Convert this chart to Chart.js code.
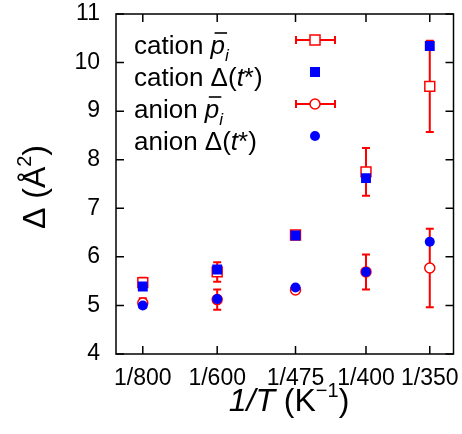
<!DOCTYPE html>
<html>
<head>
<meta charset="utf-8">
<script src="https://cdn.jsdelivr.net/npm/chart.js@4/dist/chart.umd.min.js"></script>
<style>
  body { margin: 0; background: #fff; }
  canvas { display: block; }
</style>
</head>
<body>
<canvas id="myChart" width="462" height="434"></canvas>
<script>
// temperatures (K); x positions are 1/T
var temps = [800, 600, 475, 400, 350];
var xTickLabels = ['1/800', '1/600', '1/475', '1/400', '1/350'];
var yTicks = [4, 5, 6, 7, 8, 9, 10, 11];

// cation / anion values (Å^2)
var cationP = [5.47, 5.69, 6.45, 7.75, 9.51];
var cationPErr = [0.10, 0.20, 0.04, 0.49, 0.94];
var cationD = [5.39, 5.74, 6.44, 7.62, 10.34];
var anionP = [5.05, 5.12, 5.32, 5.69, 5.77];
var anionPErr = [0.10, 0.21, 0.04, 0.36, 0.81];
var anionD = [5.00, 5.13, 5.37, 5.69, 6.31];

var xVals = temps.map(function (t) { return 1 / t; });
function pts(arr) {
    return arr.map(function (v, i) { return { x: xVals[i], y: v }; });
}

var RED = '#ff0000';
var BLUE = '#0000ff';
var FONT = '"Liberation Sans", Arial, sans-serif';

function drawRich(ctx, x, y, parts) {
    parts.forEach(function (p) {
        ctx.font = p.font;
        ctx.fillText(p.t, x, y + (p.dy || 0));
        var w = ctx.measureText(p.t).width;
        if (p.over) {
            ctx.save();
            ctx.lineWidth = 1.6;
            ctx.beginPath();
            ctx.moveTo(x + 4, y - 21);
            ctx.lineTo(x + w + 2, y - 21);
            ctx.stroke();
            ctx.restore();
        }
        x += w + (p.dx || 0);
    });
}
function richWidth(ctx, parts) {
    var w = 0;
    parts.forEach(function (p) { ctx.font = p.font; w += ctx.measureText(p.t).width + (p.dx || 0); });
    return w;
}

// error bars drawn under the markers
var errorBars = {
    id: 'errorBars',
    beforeDatasetsDraw: function (chart) {
        var ctx = chart.ctx, xs = chart.scales.x, ys = chart.scales.y;
        ctx.save();
        ctx.strokeStyle = RED;
        ctx.lineWidth = 2;
        [[cationP, cationPErr], [anionP, anionPErr]].forEach(function (s) {
            s[0].forEach(function (v, i) {
                var px = xs.getPixelForValue(xVals[i]);
                var top = ys.getPixelForValue(v + s[1][i]);
                var bot = ys.getPixelForValue(v - s[1][i]);
                ctx.beginPath();
                ctx.moveTo(px, top); ctx.lineTo(px, bot);
                ctx.moveTo(px - 4, top); ctx.lineTo(px + 4, top);
                ctx.moveTo(px - 4, bot); ctx.lineTo(px + 4, bot);
                ctx.stroke();
            });
        });
        ctx.restore();
    }
};

// frame, inward ticks, titles and legend
var frame = {
    id: 'frame',
    afterDraw: function (chart) {
        var ctx = chart.ctx, a = chart.chartArea, xs = chart.scales.x, ys = chart.scales.y;
        ctx.save();
        ctx.strokeStyle = '#000';
        ctx.lineWidth = 1.5;
        ctx.strokeRect(a.left, a.top, a.right - a.left, a.bottom - a.top);
        ctx.beginPath();
        yTicks.forEach(function (v) {
            var py = ys.getPixelForValue(v);
            ctx.moveTo(a.left, py); ctx.lineTo(a.left + 8, py);
            ctx.moveTo(a.right, py); ctx.lineTo(a.right - 8, py);
        });
        xVals.forEach(function (v) {
            var px = xs.getPixelForValue(v);
            ctx.moveTo(px, a.bottom); ctx.lineTo(px, a.bottom - 8);
            ctx.moveTo(px, a.top); ctx.lineTo(px, a.top + 8);
        });
        ctx.stroke();

        ctx.fillStyle = '#000';
        ctx.textBaseline = 'alphabetic';
        ctx.textAlign = 'left';

        // x title
        var xt = [
            { t: '1/T ', font: 'italic 32px ' + FONT },
            { t: '(K', font: '32px ' + FONT },
            { t: '\u22121', font: '20px ' + FONT, dy: -14 },
            { t: ')', font: '32px ' + FONT }
        ];
        var w = richWidth(ctx, xt);
        drawRich(ctx, 289 - w / 2, 411, xt);

        // y title
        ctx.save();
        ctx.translate(45, 187);
        ctx.rotate(-Math.PI / 2);
        var yt = [
            { t: '\u0394 (\u00c5', font: '32px ' + FONT },
            { t: '2', font: '20px ' + FONT, dy: -14 },
            { t: ')', font: '32px ' + FONT }
        ];
        w = richWidth(ctx, yt);
        drawRich(ctx, -w / 2, 0, yt);
        ctx.restore();

        // legend
        var lx = 134, mx = 315;
        var rows = [
            { y: 54, my: 40, parts: [
                { t: 'cation ', font: '26px ' + FONT },
                { t: 'p', font: 'italic 26px ' + FONT, over: true },
                { t: 'i', font: 'italic 17px ' + FONT, dy: 7 }] },
            { y: 86, my: 72, parts: [
                { t: 'cation \u0394(', font: '26px ' + FONT },
                { t: 't', font: 'italic 26px ' + FONT },
                { t: '*)', font: '26px ' + FONT }] },
            { y: 118, my: 104, parts: [
                { t: 'anion ', font: '26px ' + FONT },
                { t: 'p', font: 'italic 26px ' + FONT, over: true },
                { t: 'i', font: 'italic 17px ' + FONT, dy: 7 }] },
            { y: 150, my: 136, parts: [
                { t: 'anion \u0394(', font: '26px ' + FONT },
                { t: 't', font: 'italic 26px ' + FONT },
                { t: '*)', font: '26px ' + FONT }] }
        ];
        rows.forEach(function (r) { drawRich(ctx, lx, r.y, r.parts); });

        // legend samples
        ctx.strokeStyle = RED;
        ctx.lineWidth = 2;
        [rows[0].my, rows[2].my].forEach(function (y) {
            ctx.beginPath();
            ctx.moveTo(296, y); ctx.lineTo(335, y);
            ctx.moveTo(296, y - 4); ctx.lineTo(296, y + 4);
            ctx.moveTo(335, y - 4); ctx.lineTo(335, y + 4);
            ctx.stroke();
        });
        ctx.fillStyle = '#fff';
        ctx.lineWidth = 1.5;
        ctx.fillRect(mx - 5, rows[0].my - 5, 10, 10);
        ctx.strokeRect(mx - 5, rows[0].my - 5, 10, 10);
        ctx.beginPath();
        ctx.arc(mx, rows[2].my, 5, 0, Math.PI * 2);
        ctx.fill(); ctx.stroke();
        ctx.fillStyle = BLUE;
        ctx.fillRect(mx - 5, rows[1].my - 5, 10, 10);
        ctx.beginPath();
        ctx.arc(mx, rows[3].my, 5, 0, Math.PI * 2);
        ctx.fill();
        ctx.restore();
    }
};

var ctx = document.getElementById('myChart').getContext('2d');
var chart = new Chart(ctx, {
    type: 'scatter',
    data: {
        datasets: [{
            label: 'cation p_i',
            data: pts(cationP),
            pointStyle: 'rect',
            pointRadius: 7,
            borderColor: RED,
            backgroundColor: '#fff',
            borderWidth: 1.5,
            order: 2
        },
        {
            label: 'anion p_i',
            data: pts(anionP),
            pointStyle: 'circle',
            pointRadius: 5,
            borderColor: RED,
            backgroundColor: '#fff',
            borderWidth: 1.5,
            order: 2
        },
        {
            label: 'cation D(t*)',
            data: pts(cationD),
            pointStyle: 'rect',
            pointRadius: 7,
            borderColor: BLUE,
            backgroundColor: BLUE,
            borderWidth: 0,
            order: 1
        },
        {
            label: 'anion D(t*)',
            data: pts(anionD),
            pointStyle: 'circle',
            pointRadius: 5,
            borderColor: BLUE,
            backgroundColor: BLUE,
            borderWidth: 0,
            order: 1
        }]
    },
    options: {
        responsive: false,
        animation: false,
        layout: { padding: { left: 0, right: 7, top: 14, bottom: 0 } },
        plugins: {
            legend: { display: false },
            tooltip: { enabled: false }
        },
        scales: {
            x: {
                type: 'linear',
                min: 0.0011,
                max: 0.00299,
                afterBuildTicks: function (s) {
                    s.ticks = xVals.map(function (v) { return { value: v }; });
                },
                afterFit: function (s) {
                    s.height = 80;
                    s.paddingLeft = 0;
                    s.paddingRight = 0;
                },
                ticks: {
                    autoSkip: false,
                    maxRotation: 0,
                    padding: 11,
                    color: '#000',
                    font: { family: FONT, size: 23 },
                    callback: function (v, i) { return xTickLabels[i]; }
                },
                grid: { display: false, drawTicks: false },
                border: { display: false }
            },
            y: {
                min: 4,
                max: 11,
                afterFit: function (s) {
                    s.width = 116;
                    s.paddingTop = 0;
                    s.paddingBottom = 0;
                },
                ticks: {
                    stepSize: 1,
                    padding: 16,
                    color: '#000',
                    font: { family: FONT, size: 23 }
                },
                grid: { display: false, drawTicks: false },
                border: { display: false }
            }
        }
    },
    plugins: [errorBars, frame]
});
</script>
</body>
</html>
